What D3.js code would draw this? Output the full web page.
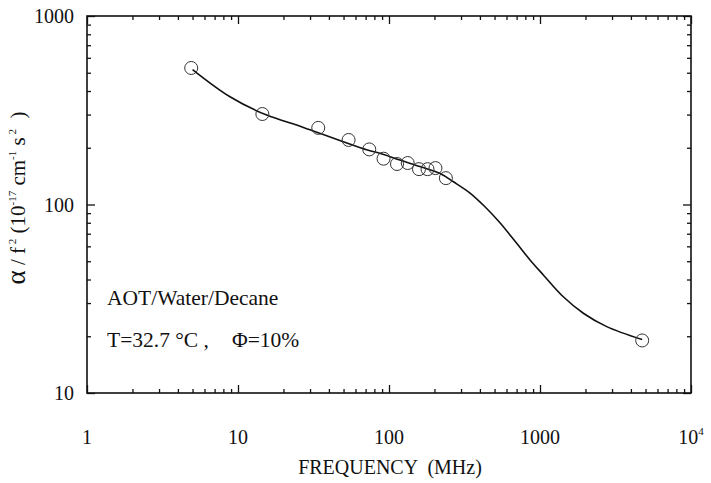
<!DOCTYPE html>
<html>
<head>
<meta charset="utf-8">
<style>
  body { margin: 0; background: #fff; }
  text { font-family: "Liberation Serif", "DejaVu Serif", serif; fill: #111; }
  .axis path { stroke: none; }
  .axis line { stroke: #111; stroke-width: 1.3px; }
</style>
</head>
<body>
<script src="https://d3js.org/d3.v7.min.js"></script>
<script>
// measured points
var freqMHz = [4.9, 14.5, 34, 54, 74, 92, 113, 133, 158, 180, 203, 238, 4750];
var alphaF2 = [530, 302, 255, 220, 196, 175, 164, 166, 154, 154, 156, 138, 19];

// fitted curve
var fitFreq  = [5.0, 8.85, 15.5, 24.5, 30, 71, 87, 118, 160, 218, 267, 344, 432, 543, 701, 859, 1052, 1426, 1936, 2766, 4750];
var fitAlpha = [520, 373, 298, 264, 249, 195, 187, 172, 159, 146, 132, 115, 97.3, 80, 62.2, 50.8, 42.3, 32.4, 26.5, 22.5, 19.2];

var xMajor = [1, 10, 100, 1000, 10000];
var yMajor = [10, 100, 1000];

var W = 711, H = 483;
var pLeft = 87, pRight = 691, pTop = 16, pBottom = 393;

var svg = d3.select("body").append("svg")
    .attr("width", W)
    .attr("height", H);

var x = d3.scaleLog().domain([1, 10000]).range([pLeft, pRight]);
var y = d3.scaleLog().domain([10, 1000]).range([pBottom, pTop]);

function minors(lo, hi) {
    var out = [];
    for (var d = lo; d < hi; d *= 10) {
        for (var k = 2; k <= 9; k++) out.push(d * k);
    }
    return out;
}
var xMinor = minors(1, 10000);
var yMinor = minors(10, 1000);

// ticks, all pointing inward
function addAxis(axisFn, scale, values, size, tx, ty) {
    svg.append("g").attr("class", "axis")
        .attr("transform", "translate(" + tx + "," + ty + ")")
        .call(axisFn(scale).tickValues(values).tickSize(-size).tickFormat(""));
}
addAxis(d3.axisBottom, x, xMajor, 8, 0, pBottom);
addAxis(d3.axisBottom, x, xMinor, 4, 0, pBottom);
addAxis(d3.axisTop, x, xMajor, 8, 0, pTop);
addAxis(d3.axisTop, x, xMinor, 4, 0, pTop);
addAxis(d3.axisLeft, y, yMajor, 8, pLeft, 0);
addAxis(d3.axisLeft, y, yMinor, 4, pLeft, 0);
addAxis(d3.axisRight, y, yMajor, 8, pRight, 0);
addAxis(d3.axisRight, y, yMinor, 4, pRight, 0);

// frame
svg.append("rect")
    .attr("x", pLeft).attr("y", pTop)
    .attr("width", pRight - pLeft).attr("height", pBottom - pTop)
    .attr("fill", "none").attr("stroke", "#111").attr("stroke-width", 1.6);

// tick labels
svg.selectAll(".xl").data(xMajor).enter().append("text")
    .attr("x", function(d) { return x(d); })
    .attr("y", 444)
    .attr("text-anchor", "middle")
    .attr("font-size", "20px")
    .each(function(d) {
        var t = d3.select(this);
        if (d === 10000) {
            t.append("tspan").text("10");
            t.append("tspan").attr("dy", -9).attr("font-size", "11px").text("4");
        } else {
            t.text(d);
        }
    });

svg.selectAll(".yl").data(yMajor).enter().append("text")
    .attr("x", 74)
    .attr("y", function(d) { return y(d) + 7; })
    .attr("text-anchor", "end")
    .attr("font-size", "20px")
    .text(function(d) { return d; });

// axis titles
svg.append("text")
    .attr("x", 390).attr("y", 474)
    .attr("text-anchor", "middle")
    .attr("font-size", "20px")
    .attr("xml:space", "preserve")
    .text("FREQUENCY  (MHz)");

var yt = svg.append("text")
    .attr("transform", "translate(25,198) rotate(-90)")
    .attr("text-anchor", "middle")
    .attr("font-size", "21px")
    .attr("xml:space", "preserve");
yt.append("tspan").attr("font-size", "27px").text("α");
yt.append("tspan").text(" / f");
yt.append("tspan").attr("dy", -9).attr("font-size", "11px").text(" 2");
yt.append("tspan").attr("dy", 9).text(" (10");
yt.append("tspan").attr("dy", -9).attr("font-size", "11px").text("-17");
yt.append("tspan").attr("dy", 9).text(" cm");
yt.append("tspan").attr("dy", -9).attr("font-size", "11px").text("-1");
yt.append("tspan").attr("dy", 9).text(" s");
yt.append("tspan").attr("dy", -9).attr("font-size", "11px").text(" 2");
yt.append("tspan").attr("dy", 9).text("  )");

// annotations
svg.append("text")
    .attr("x", 107).attr("y", 305)
    .attr("font-size", "21.5px")
    .text("AOT/Water/Decane");
svg.append("text")
    .attr("x", 107).attr("y", 347)
    .attr("font-size", "21.5px")
    .text("T=32.7 °C ,");
svg.append("text")
    .attr("x", 232).attr("y", 347)
    .attr("font-size", "21.5px")
    .text("Φ=10%");

// fit line
var fit = fitFreq.map(function(f, i) { return [f, fitAlpha[i]]; });
var line = d3.line()
    .x(function(d) { return x(d[0]); })
    .y(function(d) { return y(d[1]); })
    .curve(d3.curveCatmullRom.alpha(0.5));
svg.append("path")
    .datum(fit)
    .attr("d", line)
    .attr("fill", "none")
    .attr("stroke", "#111")
    .attr("stroke-width", 1.6);

// data circles
svg.selectAll("circle")
    .data(freqMHz)
    .enter()
    .append("circle")
    .attr("cx", function(d) { return x(d); })
    .attr("cy", function(d, i) { return y(alphaF2[i]); })
    .attr("r", 6.5)
    .attr("fill", "none")
    .attr("stroke", "#333")
    .attr("stroke-width", 1);
</script>
</body>
</html>
